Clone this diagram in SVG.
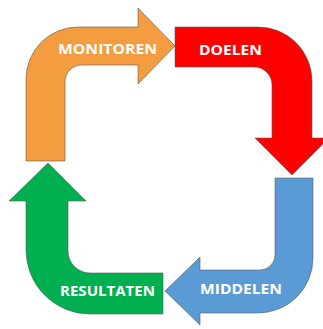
<svg xmlns="http://www.w3.org/2000/svg" width="323" height="329" viewBox="0 0 323 329">
<style>
.a{stroke:#5a5a5a;stroke-width:0.6;stroke-linejoin:miter}
.t{font-family:"Open Sans","Liberation Sans",sans-serif;font-weight:bold;font-size:15px;fill:#fff}
</style>
<rect width="323" height="329" fill="#fff"/>
<g id="connectors"></g>
<g id="monitoren">
<path class="a" fill="#F39C40" d="M26,161 L26,79 A52,52 0 0 1 78,27 L138,27 L138,8 L175,46 L138,84 L138,65 L82,65 A17,17 0 0 0 65,82 L65,161 Z"/>
<text class="t" x="58" y="54" textLength="99" lengthAdjust="spacingAndGlyphs">MONITOREN</text>
</g>
<g id="doelen">
<path class="a" fill="#FF0000" d="M175,27 L258,27 A54,54 0 0 1 312,81 L312,138 L329,138 L292,175 L255,138 L272,138 L272,85 A18,18 0 0 0 254,67 L175,67 Z"/>
<text class="t" x="199" y="55" textLength="63" lengthAdjust="spacingAndGlyphs">DOELEN</text>
</g>
<g id="middelen">
<path class="a" fill="#5B9BD5" d="M275,178 L313,178 L313,258 A55,55 0 0 1 258,313 L200,313 L200,325 L165,291 L200,257 L200,270 L260,270 A15,15 0 0 0 275,255 Z"/>
<text class="t" x="200" y="294" textLength="82" lengthAdjust="spacingAndGlyphs">MIDDELEN</text>
</g>
<g id="resultaten">
<path class="a" fill="#00B050" d="M163,273 L163,314 L90,314 A64,64 0 0 1 26,250 L26,201 L9,201 L48,163 L86,201 L68,201 L68,251 A22,22 0 0 0 90,273 Z"/>
<text class="t" x="60" y="296" textLength="95" lengthAdjust="spacingAndGlyphs">RESULTATEN</text>
</g>
</svg>
